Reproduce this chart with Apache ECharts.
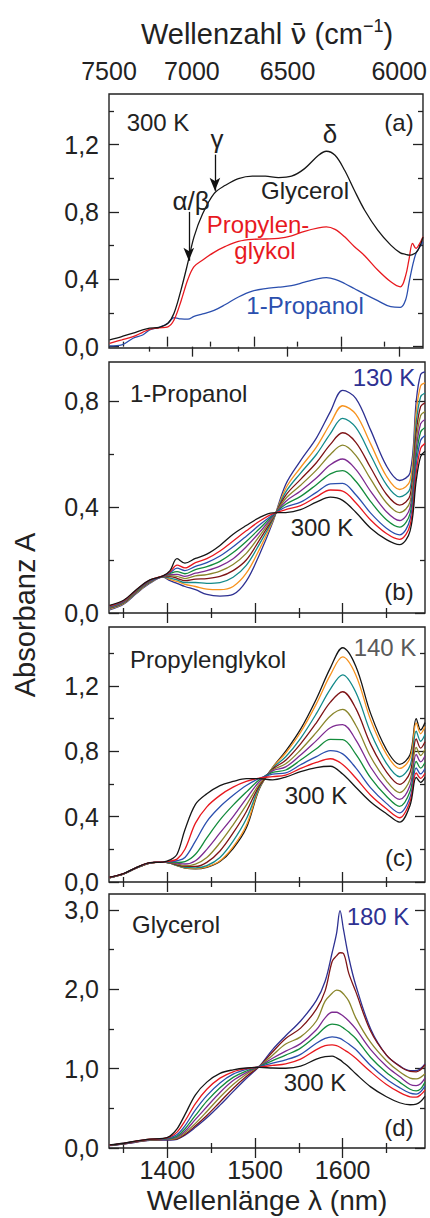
<!DOCTYPE html>
<html><head><meta charset="utf-8">
<script src="https://cdn.jsdelivr.net/npm/echarts@6/dist/echarts.min.js"></script>
<style>html,body{margin:0;padding:0;background:#fff}#c{width:430px;height:1218px}</style>
</head><body><div id="c"></div>
<script>
const FONT = '"Liberation Sans", Arial, Helvetica, sans-serif';

// ---------- axes ----------
const lambdaMajor = [1400, 1500, 1600];
const lambdaMinor = [1350, 1450, 1550, 1650];
const nuLabels = [7500, 7000, 6500, 6000];
const nuMajor = [7000, 6500, 6000];
const nuMinor = [7250, 6750, 6250];

// ---------- panel (a): 300 K ----------
const lambdaA = [1334,1348,1361,1372,1380,1391,1401,1408,1416,1424,1431,1441,1454,1467,1482,1498,1513,1528,1543,1558,1574,1583,1593,1604,1615,1627,1642,1657,1668,1674,1678,1682,1686,1690,1694];
const glycerolA = [.04,.06,.08,.1,.11,.115,.139,.198,.336,.5,.652,.79,.909,.958,.998,1.013,1.012,1.004,1.012,1.057,1.136,1.16,1.136,1.047,.93,.81,.692,.603,.557,.548,.543,.547,.558,.59,.65];
const propylenA = [.02,.04,.059,.085,.103,.112,.118,.158,.27,.4,.475,.515,.56,.595,.625,.637,.639,.643,.658,.685,.705,.711,.696,.652,.595,.54,.455,.385,.355,.42,.52,.613,.583,.61,.652];
const propanolA = [.004,.01,.05,.069,.099,.115,.139,.172,.165,.163,.18,.194,.215,.25,.295,.33,.345,.353,.362,.383,.404,.41,.4,.375,.345,.312,.273,.237,.233,.277,.38,.48,.555,.59,.622];

// ---------- panels (b),(c) wavelength grid ----------
const lambdaBC = [1334,1350,1365,1380,1395,1403,1411,1420,1432,1445,1460,1475,1490,1505,1520,1535,1552,1570,1586,1600,1615,1632,1650,1665,1677,1684,1689,1694];

// (b) 1-Propanol, 300 K -> 130 K
const propB300 = [.029,.048,.09,.125,.14,.16,.205,.188,.206,.222,.255,.297,.33,.36,.378,.379,.39,.418,.437,.425,.38,.32,.277,.258,.31,.5,.59,.61];
const propB2 = [.027,.046,.088,.124,.14,.156,.181,.17,.19,.205,.234,.272,.31,.346,.374,.39,.405,.438,.464,.46,.416,.351,.3,.278,.332,.53,.621,.64];
const propB3 = [.026,.045,.087,.122,.139,.152,.169,.16,.176,.19,.215,.25,.29,.332,.37,.4,.418,.455,.487,.489,.446,.377,.32,.295,.354,.56,.652,.67];
const propB4 = [.024,.044,.085,.121,.139,.149,.156,.148,.164,.175,.195,.228,.27,.318,.367,.41,.44,.484,.525,.537,.497,.42,.352,.324,.376,.59,.683,.7];
const propB5 = [.022,.042,.084,.12,.138,.145,.146,.138,.15,.16,.177,.205,.25,.304,.363,.421,.46,.509,.559,.581,.542,.459,.382,.349,.398,.62,.714,.73];
const propB6 = [.021,.04,.082,.118,.138,.141,.138,.13,.14,.145,.158,.183,.225,.29,.359,.432,.482,.539,.598,.633,.595,.505,.416,.379,.42,.65,.745,.76];
const propB7 = [.019,.039,.081,.117,.137,.137,.131,.122,.128,.13,.138,.16,.2,.275,.355,.444,.504,.567,.636,.68,.644,.548,.448,.407,.444,.683,.779,.793];
const propB8 = [.017,.037,.079,.115,.136,.132,.125,.115,.115,.112,.115,.135,.18,.26,.35,.456,.528,.598,.677,.734,.7,.595,.484,.438,.47,.72,.816,.83];
const propB9 = [.015,.035,.077,.114,.136,.127,.119,.108,.1,.09,.088,.1,.15,.24,.345,.47,.549,.626,.715,.782,.75,.638,.516,.466,.5,.758,.857,.868];
const propB130 = [.012,.033,.075,.112,.135,.122,.112,.1,.088,.07,.064,.07,.12,.22,.34,.485,.575,.66,.76,.84,.81,.69,.555,.5,.53,.8,.9,.91];

// (c) Propylenglykol, 300 K -> 140 K
const pgC300 = [.03,.052,.09,.118,.122,.135,.17,.32,.475,.54,.59,.615,.632,.632,.625,.642,.675,.7,.708,.66,.58,.49,.418,.366,.47,.64,.61,.64];
const pgC2 = [.029,.051,.09,.118,.122,.128,.14,.2,.36,.46,.53,.58,.615,.636,.645,.654,.695,.732,.754,.719,.636,.531,.448,.393,.494,.667,.634,.665];
const pgC3 = [.028,.051,.089,.117,.122,.125,.13,.15,.25,.37,.46,.53,.59,.634,.66,.667,.717,.767,.804,.784,.698,.576,.481,.423,.52,.698,.661,.694];
const pgC4 = [.028,.05,.089,.117,.122,.122,.12,.125,.17,.27,.38,.47,.55,.625,.67,.685,.746,.815,.872,.871,.782,.637,.525,.463,.555,.738,.697,.731];
const pgC5 = [.027,.05,.088,.117,.122,.12,.115,.11,.13,.2,.3,.4,.51,.615,.68,.704,.777,.865,.944,.963,.87,.702,.572,.505,.592,.781,.735,.771];
const pgC6 = [.027,.05,.088,.116,.122,.118,.11,.1,.11,.15,.24,.35,.47,.6,.685,.723,.808,.915,1.016,1.056,.959,.766,.619,.547,.629,.824,.774,.812];
const pgC7 = [.027,.05,.087,.116,.122,.117,.105,.095,.095,.12,.19,.3,.43,.59,.69,.745,.845,.974,1.1,1.164,1.062,.842,.674,.597,.672,.875,.819,.858];
const pgC8 = [.026,.05,.087,.116,.122,.116,.102,.09,.087,.1,.15,.25,.385,.58,.695,.766,.879,1.03,1.18,1.267,1.161,.914,.726,.644,.713,.923,.861,.903];
const pgC9 = [.026,.05,.086,.116,.122,.115,.1,.087,.082,.092,.13,.215,.345,.575,.7,.789,.916,1.09,1.267,1.377,1.267,.991,.782,.695,.758,.974,.907,.951];
const pgC140 = [.026,.05,.086,.116,.122,.115,.1,.085,.08,.09,.125,.205,.33,.57,.7,.8,.935,1.12,1.31,1.433,1.32,1.03,.81,.72,.78,1.0,.93,.975];

// (d) Glycerol, 300 K -> 180 K
const lambdaD = [1334,1350,1365,1380,1395,1403,1411,1420,1432,1445,1460,1475,1490,1505,1520,1535,1552,1570,1580,1588,1593,1597,1601,1607,1615,1632,1650,1665,1677,1684,1689,1694];
const glyD300 = [.04,.06,.09,.112,.12,.15,.24,.42,.67,.83,.94,.985,1.008,1.015,1.008,1.005,1.03,1.12,1.152,1.158,1.136,1.11,1.075,1.02,.935,.77,.645,.57,.545,.553,.585,.65];
const glyD2 = [.038,.058,.088,.11,.118,.14,.2,.34,.56,.74,.88,.96,1.0,1.02,1.04,1.06,1.12,1.24,1.29,1.3,1.29,1.27,1.24,1.2,1.13,.96,.8,.7,.645,.64,.67,.73];
const glyD3 = [.037,.057,.086,.108,.115,.13,.17,.28,.48,.66,.82,.93,.99,1.025,1.07,1.11,1.18,1.32,1.38,1.4,1.395,1.38,1.355,1.31,1.24,1.04,.87,.76,.69,.68,.71,.78];
const glyD4 = [.036,.056,.084,.106,.112,.12,.15,.24,.41,.59,.76,.89,.97,1.028,1.1,1.17,1.258,1.416,1.52,1.56,1.555,1.54,1.51,1.46,1.38,1.14,.95,.83,.74,.72,.745,.83];
const glyD5 = [.035,.055,.082,.104,.11,.115,.135,.21,.36,.52,.7,.85,.95,1.03,1.13,1.22,1.315,1.49,1.64,1.71,1.71,1.69,1.66,1.6,1.5,1.24,1.03,.9,.8,.785,.81,.88];
const glyD6 = [.034,.054,.08,.1,.108,.11,.125,.19,.31,.46,.64,.8,.93,1.03,1.17,1.31,1.4,1.6,1.85,1.95,1.99,1.98,1.94,1.85,1.64,1.33,1.1,.96,.88,.87,.89,.935];
const glyD7 = [.032,.052,.078,.098,.105,.105,.115,.17,.28,.41,.58,.75,.9,1.03,1.21,1.38,1.51,1.75,1.98,2.35,2.42,2.46,2.45,2.2,1.97,1.47,1.17,1.03,.965,.96,.985,1.05];
const glyD180 = [.03,.05,.075,.095,.1,.1,.11,.16,.26,.38,.54,.71,.875,1.03,1.24,1.414,1.6,1.86,2.1,2.46,2.7,2.99,2.75,2.4,2.05,1.5,1.17,1.036,.975,.975,1.0,1.06];

// ---------- styling ----------
const C = {k:'#161616', r:'#e8191f', b:'#2b4fae', g:'#138c3c', p:'#7d2b91', o:'#8a862c', m:'#7e1416', t:'#138a8a', or:'#f7931e', n:'#2e3192'};
const INK = '#222';
const XMIN = 1e7 / 7500, XMAX = 1694;

const chart = echarts.init(document.getElementById('c'), null, {renderer: 'svg'});

const grids = [
  {left:109, top:94, width:316, height:254},
  {left:109, top:362, width:316, height:251},
  {left:109, top:627, width:316, height:255},
  {left:109, top:894, width:316, height:254}
].map(g => Object.assign(g, {show:true, borderColor:INK, borderWidth:1.4, backgroundColor:'transparent', containLabel:false}));

const tickStyle = {color: INK, width: 1.3};
const lbl = {fontSize: 25, color: INK, fontFamily: FONT};

function buildX(gi, labelsBottom, topNu) {
  const base = {gridIndex: gi, type: 'value', min: XMIN, max: XMAX, splitLine: {show: false}, axisLine: {show: false}};
  const topMaj = topNu ? nuMajor.map(n => 1e7 / n) : lambdaMajor;
  const topMin = topNu ? nuMinor.map(n => 1e7 / n) : lambdaMinor;
  return [
    Object.assign({}, base, {position: 'bottom',
      axisTick: {show: true, inside: true, length: 10, customValues: lambdaMajor, lineStyle: tickStyle},
      axisLabel: labelsBottom ? Object.assign({show: true, margin: 9, customValues: lambdaMajor, formatter: v => String(Math.round(v))}, lbl) : {show: false}}),
    Object.assign({}, base, {position: 'bottom',
      axisTick: {show: true, inside: true, length: 5, customValues: lambdaMinor, lineStyle: tickStyle}, axisLabel: {show: false}}),
    Object.assign({}, base, {position: 'top',
      axisTick: {show: true, inside: true, length: 10, customValues: topMaj, lineStyle: tickStyle},
      axisLabel: topNu ? Object.assign({show: true, margin: 11, customValues: nuLabels.map(n => 1e7 / n), formatter: v => String(Math.round(1e7 / v / 10) * 10)}, lbl) : {show: false}}),
    Object.assign({}, base, {position: 'top',
      axisTick: {show: true, inside: true, length: 5, customValues: topMin, lineStyle: tickStyle}, axisLabel: {show: false}})
  ];
}

function buildY(gi, min, max, major, minor) {
  const base = {gridIndex: gi, type: 'value', min, max, splitLine: {show: false}, axisLine: {show: false}};
  return [
    Object.assign({}, base, {position: 'left',
      axisTick: {show: true, inside: true, length: 10, customValues: major, lineStyle: tickStyle},
      axisLabel: Object.assign({show: true, margin: 10, customValues: major, formatter: v => v.toFixed(1).replace('.', ',')}, lbl)}),
    Object.assign({}, base, {position: 'left',
      axisTick: {show: true, inside: true, length: 5, customValues: minor, lineStyle: tickStyle}, axisLabel: {show: false}}),
    Object.assign({}, base, {position: 'right',
      axisTick: {show: true, inside: true, length: 10, customValues: major, lineStyle: tickStyle}, axisLabel: {show: false}}),
    Object.assign({}, base, {position: 'right',
      axisTick: {show: true, inside: true, length: 5, customValues: minor, lineStyle: tickStyle}, axisLabel: {show: false}})
  ];
}

const xAxis = [].concat(buildX(0, false, true), buildX(1, false, false), buildX(2, false, false), buildX(3, true, false));
const yAxis = [].concat(
  buildY(0, -0.008, 1.5, [0, 0.4, 0.8, 1.2], [0.2, 0.6, 1.0, 1.4]),
  buildY(1, 0, 0.947, [0, 0.4, 0.8], [0.2, 0.6]),
  buildY(2, 0, 1.56, [0, 0.4, 0.8, 1.2], [0.2, 0.6, 1.0, 1.4]),
  buildY(3, 0, 3.2, [0, 1, 2, 3], [0.5, 1.5, 2.5])
);

function line(name, xs, ys, color, gi, extra) {
  return Object.assign({
    type: 'line', name, xAxisIndex: gi * 4, yAxisIndex: gi * 4,
    data: xs.map((x, i) => [x, ys[i]]),
    symbol: 'none', showSymbol: false, smooth: 0.35,
    lineStyle: {color, width: 1.3}, itemStyle: {color},
    silent: true, animation: false
  }, extra || {});
}

// annotation arrows (gamma and alpha/beta) in panel (a), given in data coordinates
const arrowGamma = [[1455, 1.14], [1455, 0.925]];
const arrowAlphaBeta = [[1425, 0.80], [1425, 0.51]];
const arrows = {
  silent: true, symbol: ['none', 'arrow'],
  animation: false, label: {show: false},
  lineStyle: {type: 'solid', color: '#111', width: 1.3},
  itemStyle: {color: '#111'},
  data: [
    [{coord: arrowGamma[0], symbol: 'none'}, {coord: arrowGamma[1], symbol: 'arrow', symbolSize: [8, 13]}],
    [{coord: arrowAlphaBeta[0], symbol: 'none'}, {coord: arrowAlphaBeta[1], symbol: 'arrow', symbolSize: [8, 13]}]
  ]
};

const series = [
  line('1-Propanol', lambdaA, propanolA, C.b, 0),
  line('Propylenglykol', lambdaA, propylenA, C.r, 0),
  line('Glycerol', lambdaA, glycerolA, C.k, 0, {markLine: arrows}),

  line('130 K', lambdaBC, propB130, C.n, 1),
  line('b9', lambdaBC, propB9, C.or, 1),
  line('b8', lambdaBC, propB8, C.t, 1),
  line('b7', lambdaBC, propB7, C.m, 1),
  line('b6', lambdaBC, propB6, C.o, 1),
  line('b5', lambdaBC, propB5, C.p, 1),
  line('b4', lambdaBC, propB4, C.g, 1),
  line('b3', lambdaBC, propB3, C.b, 1),
  line('b2', lambdaBC, propB2, C.r, 1),
  line('300 K b', lambdaBC, propB300, C.k, 1),

  line('140 K', lambdaBC, pgC140, C.k, 2),
  line('c9', lambdaBC, pgC9, C.or, 2),
  line('c8', lambdaBC, pgC8, C.t, 2),
  line('c7', lambdaBC, pgC7, C.m, 2),
  line('c6', lambdaBC, pgC6, C.o, 2),
  line('c5', lambdaBC, pgC5, C.p, 2),
  line('c4', lambdaBC, pgC4, C.g, 2),
  line('c3', lambdaBC, pgC3, C.b, 2),
  line('c2', lambdaBC, pgC2, C.r, 2),
  line('300 K c', lambdaBC, pgC300, C.k, 2),

  line('180 K', lambdaD, glyD180, C.n, 3),
  line('d7', lambdaD, glyD7, C.m, 3),
  line('d6', lambdaD, glyD6, C.o, 3),
  line('d5', lambdaD, glyD5, C.p, 3),
  line('d4', lambdaD, glyD4, C.g, 3),
  line('d3', lambdaD, glyD3, C.b, 3),
  line('d2', lambdaD, glyD2, C.r, 3),
  line('300 K d', lambdaD, glyD300, C.k, 3)
];

function T(text, x, y, o) {
  o = o || {};
  const align = o.align || 'center';
  return {
    type: 'text', x, y, silent: true, z: 100, rotation: o.rotation || 0,
    style: {
      text, fontSize: o.size || 24, fontFamily: o.family || FONT, fill: o.color || INK,
      align, verticalAlign: 'middle', textAlign: align, textVerticalAlign: 'middle',
      rich: o.rich
    }
  };
}

const graphic = [
  // axis titles
  T('{a|Wellenzahl }{v|ν̄}{a| (cm}{s|−1}{a|)}', 267, 34, {rich: {
    a: {fontSize: 29, fontFamily: FONT, color: INK, lineHeight: 34},
    v: {fontSize: 29, fontFamily: '"DejaVu Sans", sans-serif', color: INK, lineHeight: 34},
    s: {fontSize: 18, fontFamily: FONT, color: INK, lineHeight: 34, verticalAlign: 'top'}
  }}),
  T('Wellenlänge λ (nm)', 267, 1200, {size: 28}),
  T('Absorbanz A', 25, 615, {size: 29, rotation: Math.PI / 2}),
  // panel (a)
  T('300 K', 158, 122),
  T('(a)', 399, 122),
  T('γ', 217, 139, {size: 26}),
  T('δ', 330, 134, {size: 26}),
  T('α/β', 191, 201, {size: 26}),
  T('Glycerol', 305, 190),
  T('Propylen-', 258, 224, {color: C.r}),
  T('glykol', 265, 250, {color: C.r}),
  T('1-Propanol', 305, 305, {color: C.b}),
  // panel (b)
  T('1-Propanol', 130, 393, {align: 'left'}),
  T('130 K', 384, 377, {color: C.n}),
  T('300 K', 322, 527),
  T('(b)', 399, 591),
  // panel (c)
  T('Propylenglykol', 130, 659, {align: 'left'}),
  T('140 K', 385, 647, {color: '#5a5a5a'}),
  T('300 K', 316, 795),
  T('(c)', 399, 857),
  // panel (d)
  T('Glycerol', 132, 924, {align: 'left'}),
  T('180 K', 378, 916, {color: C.n}),
  T('300 K', 315, 1082),
  T('(d)', 399, 1127)
];

chart.setOption({
  animation: false,
  backgroundColor: '#ffffff',
  textStyle: {fontFamily: FONT},
  grid: grids,
  xAxis, yAxis, series, graphic
});
</script></body></html>
